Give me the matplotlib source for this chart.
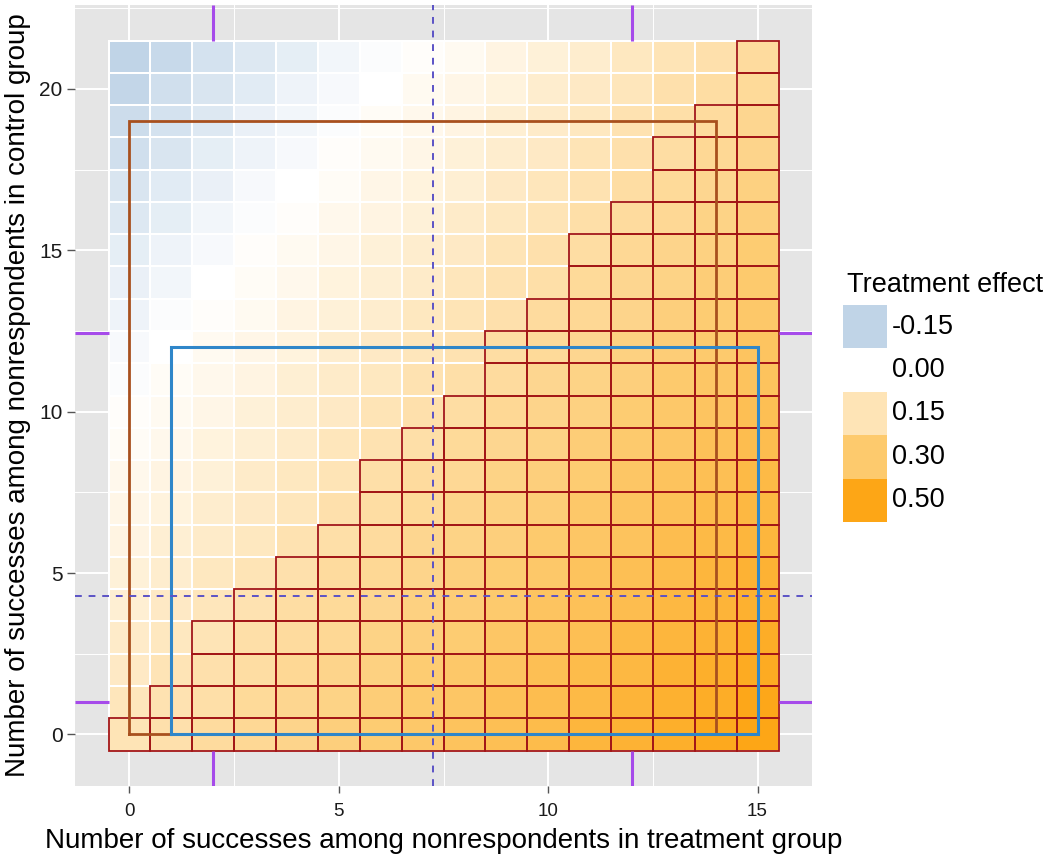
import numpy as np
import matplotlib
matplotlib.use("Agg")
import matplotlib.pyplot as plt
from matplotlib.colors import LinearSegmentedColormap, Normalize
from matplotlib.patches import Rectangle

plt.rcParams['font.family'] = ['Liberation Sans', 'DejaVu Sans']

# ---------------- data ----------------
treatment_successes = list(range(16))   # x categories
control_successes = list(range(22))     # y categories

# treatment effect, one row per control value (y = 0 .. 21), columns x = 0 .. 15
effect_y0  = [0.15, 0.17, 0.20, 0.22, 0.24, 0.27, 0.29, 0.31, 0.34, 0.36, 0.38, 0.41, 0.43, 0.45, 0.48, 0.50]
effect_y1  = [0.14, 0.16, 0.18, 0.21, 0.23, 0.25, 0.28, 0.30, 0.32, 0.35, 0.37, 0.39, 0.42, 0.44, 0.46, 0.49]
effect_y2  = [0.12, 0.15, 0.17, 0.19, 0.22, 0.24, 0.26, 0.29, 0.31, 0.33, 0.36, 0.38, 0.40, 0.43, 0.45, 0.47]
effect_y3  = [0.11, 0.13, 0.15, 0.18, 0.20, 0.22, 0.25, 0.27, 0.29, 0.32, 0.34, 0.36, 0.39, 0.41, 0.43, 0.46]
effect_y4  = [0.09, 0.12, 0.14, 0.16, 0.19, 0.21, 0.23, 0.26, 0.28, 0.30, 0.33, 0.35, 0.37, 0.40, 0.42, 0.44]
effect_y5  = [0.08, 0.10, 0.13, 0.15, 0.17, 0.20, 0.22, 0.24, 0.27, 0.29, 0.31, 0.34, 0.36, 0.38, 0.41, 0.43]
effect_y6  = [0.06, 0.09, 0.11, 0.13, 0.16, 0.18, 0.20, 0.23, 0.25, 0.27, 0.30, 0.32, 0.34, 0.37, 0.39, 0.41]
effect_y7  = [0.05, 0.07, 0.10, 0.12, 0.14, 0.17, 0.19, 0.21, 0.24, 0.26, 0.28, 0.31, 0.33, 0.35, 0.38, 0.40]
effect_y8  = [0.04, 0.06, 0.08, 0.11, 0.13, 0.15, 0.18, 0.20, 0.22, 0.25, 0.27, 0.29, 0.32, 0.34, 0.36, 0.39]
effect_y9  = [0.02, 0.04, 0.07, 0.09, 0.11, 0.14, 0.16, 0.18, 0.21, 0.23, 0.25, 0.28, 0.30, 0.32, 0.35, 0.37]
effect_y10 = [0.01, 0.03, 0.05, 0.08, 0.10, 0.12, 0.15, 0.17, 0.19, 0.22, 0.24, 0.26, 0.29, 0.31, 0.33, 0.36]
effect_y11 = [-0.01, 0.02, 0.04, 0.06, 0.09, 0.11, 0.13, 0.16, 0.18, 0.20, 0.23, 0.25, 0.27, 0.30, 0.32, 0.34]
effect_y12 = [-0.02, 0.00, 0.03, 0.05, 0.07, 0.10, 0.12, 0.14, 0.16, 0.19, 0.21, 0.23, 0.26, 0.28, 0.30, 0.33]
effect_y13 = [-0.04, -0.01, 0.01, 0.03, 0.06, 0.08, 0.10, 0.13, 0.15, 0.17, 0.20, 0.22, 0.24, 0.27, 0.29, 0.31]
effect_y14 = [-0.05, -0.03, 0.00, 0.02, 0.04, 0.07, 0.09, 0.11, 0.14, 0.16, 0.18, 0.21, 0.23, 0.25, 0.28, 0.30]
effect_y15 = [-0.06, -0.04, -0.02, 0.01, 0.03, 0.05, 0.08, 0.10, 0.12, 0.15, 0.17, 0.19, 0.22, 0.24, 0.26, 0.29]
effect_y16 = [-0.08, -0.06, -0.03, -0.01, 0.01, 0.04, 0.06, 0.08, 0.11, 0.13, 0.15, 0.18, 0.20, 0.22, 0.25, 0.27]
effect_y17 = [-0.09, -0.07, -0.05, -0.02, 0.00, 0.02, 0.05, 0.07, 0.09, 0.12, 0.14, 0.16, 0.19, 0.21, 0.23, 0.26]
effect_y18 = [-0.11, -0.09, -0.06, -0.04, -0.02, 0.01, 0.03, 0.05, 0.08, 0.10, 0.12, 0.15, 0.17, 0.19, 0.22, 0.24]
effect_y19 = [-0.12, -0.10, -0.08, -0.05, -0.03, -0.01, 0.02, 0.04, 0.06, 0.09, 0.11, 0.13, 0.16, 0.18, 0.20, 0.23]
effect_y20 = [-0.14, -0.11, -0.09, -0.07, -0.04, -0.02, 0.00, 0.03, 0.05, 0.07, 0.10, 0.12, 0.14, 0.17, 0.19, 0.21]
effect_y21 = [-0.15, -0.13, -0.10, -0.08, -0.06, -0.03, -0.01, 0.01, 0.03, 0.06, 0.08, 0.10, 0.13, 0.15, 0.17, 0.20]

effect_rows = [effect_y0, effect_y1, effect_y2, effect_y3, effect_y4, effect_y5, effect_y6,
               effect_y7, effect_y8, effect_y9, effect_y10, effect_y11, effect_y12, effect_y13,
               effect_y14, effect_y15, effect_y16, effect_y17, effect_y18, effect_y19,
               effect_y20, effect_y21]

# highest control value of the outlined (significant) cells, per treatment value
outlined_max_control = [0, 1, 3, 4, 5, 6, 8, 9, 10, 12, 13, 15, 16, 18, 19, 21]

# boxes (treatment range, control range)
brown_box_x = (0, 14)
brown_box_y = (0, 19)
blue_box_x = (1, 15)
blue_box_y = (0, 12)

# dashed reference lines
ref_x = 7.25
ref_y = 4.3

# marks on the panel margins
margin_marks_x = [2, 12]
margin_marks_y = [1, 12.45]

legend_breaks = [-0.15, 0.00, 0.15, 0.30, 0.50]
legend_labels = ["-0.15", "0.00", "0.15", "0.30", "0.50"]
scale_colors = ["#C0D4E7", "#FFFFFF", "#FEE4B6", "#FDCA6E", "#FDA616"]

x_title = "Number of successes among nonrespondents in treatment group"
y_title = "Number of successes among nonrespondents in control group"

# ---------------- figure ----------------
W, H = 1050, 859
fig = plt.figure(figsize=(W / 100, H / 100), dpi=100)
fig.patch.set_facecolor("white")

def fx(px):
    return px / W

def fy(py):
    return 1 - py / H

pl, pr, pt, pb = 75, 812, 5, 786
ax = fig.add_axes([pl / W, 1 - pb / H, (pr - pl) / W, (pb - pt) / H])
ax.set_facecolor("#E5E5E5")

vmin, vmax = legend_breaks[0], legend_breaks[-1]
nodes = [(b - vmin) / (vmax - vmin) for b in legend_breaks]
cmap = LinearSegmentedColormap.from_list("eff", list(zip(nodes, scale_colors)))
norm = Normalize(vmin=vmin, vmax=vmax)

Z = np.array(effect_rows)
xe = np.arange(len(treatment_successes) + 1) - 0.5
ye = np.arange(len(control_successes) + 1) - 0.5
ax.pcolormesh(xe, ye, Z, cmap=cmap, norm=norm, edgecolors="white",
              linewidth=1.3, zorder=2)

# outlined cells
for xi, top in zip(treatment_successes, outlined_max_control):
    for yi in range(0, top + 1):
        ax.add_patch(Rectangle((xi - 0.5, yi - 0.5), 1, 1, fill=False,
                               edgecolor="#A31515", linewidth=1.3, zorder=3))

# boxes
def box(xr, yr, color, lw):
    xs = [xr[0], xr[1], xr[1], xr[0], xr[0]]
    ys = [yr[0], yr[0], yr[1], yr[1], yr[0]]
    ax.plot(xs, ys, color=color, linewidth=lw, zorder=4, solid_joinstyle="miter")

box(brown_box_x, brown_box_y, "#A8501E", 2.0)
box(blue_box_x, blue_box_y, "#2F86C9", 2.2)

xlim = (-1.3, 16.3)
ylim = (-1.6, 22.6)

# dashed lines
ax.axvline(ref_x, color="#5B52C6", linewidth=1.4, linestyle=(0, (3.5, 3.5)), zorder=5)
ax.axhline(ref_y, color="#5B52C6", linewidth=1.4, linestyle=(0, (3.5, 3.5)), zorder=5)

# margin marks
mc = "#A64BEA"
for mx in margin_marks_x:
    ax.plot([mx, mx], [ylim[0], ye[0]], color=mc, linewidth=2.2, zorder=5, solid_capstyle="butt")
    ax.plot([mx, mx], [ye[-1], ylim[1]], color=mc, linewidth=2.2, zorder=5, solid_capstyle="butt")
for my in margin_marks_y:
    ax.plot([xlim[0], xe[0]], [my, my], color=mc, linewidth=2.2, zorder=5, solid_capstyle="butt")
    ax.plot([xe[-1], xlim[1]], [my, my], color=mc, linewidth=2.2, zorder=5, solid_capstyle="butt")

ax.set_xlim(*xlim)
ax.set_ylim(*ylim)

ax.set_xticks([0, 5, 10, 15])
ax.set_yticks([0, 5, 10, 15, 20])
ax.set_xticks([2.5, 7.5, 12.5], minor=True)
ax.set_yticks([2.5, 7.5, 12.5, 17.5, 22.5], minor=True)
ax.grid(which="major", color="white", linewidth=1.4, zorder=0)
ax.grid(which="minor", color="white", linewidth=0.7, zorder=0)
ax.set_axisbelow(True)
ax.tick_params(axis="x", which="major", length=5, width=1, color="#555555", labelsize=13.5,
               labelcolor="#1a1a1a", pad=7)
ax.tick_params(axis="y", which="major", length=5.5, width=1, color="#555555", labelsize=15,
               labelcolor="#1a1a1a", pad=3.5)
ax.tick_params(which="minor", length=0)
for s in ax.spines.values():
    s.set_visible(False)

# axis titles
fig.text(fx((pl + pr) / 2), fy(848), x_title, fontsize=20, ha="center", va="baseline")
fig.text(fx(18), fy((pt + pb) / 2), y_title, fontsize=20, ha="center", va="center",
         rotation=90)

# ---------------- legend ----------------
fig.text(fx(847), fy(285), "Treatment effect", fontsize=19.5, ha="left", va="center")
kx0, kx1 = 843, 887
ky0, kh = 305, 43.4
for i, (b, lab) in enumerate(zip(legend_breaks, legend_labels)):
    top = ky0 + i * kh
    fig.add_artist(Rectangle((fx(kx0), fy(top + kh)), (kx1 - kx0) / W, kh / H,
                             transform=fig.transFigure, facecolor=cmap(norm(b)),
                             edgecolor="none"))
    fig.text(fx(892), fy(top + kh / 2), lab, fontsize=19.5, ha="left", va="center")

fig.savefig("out.png", dpi=100)
